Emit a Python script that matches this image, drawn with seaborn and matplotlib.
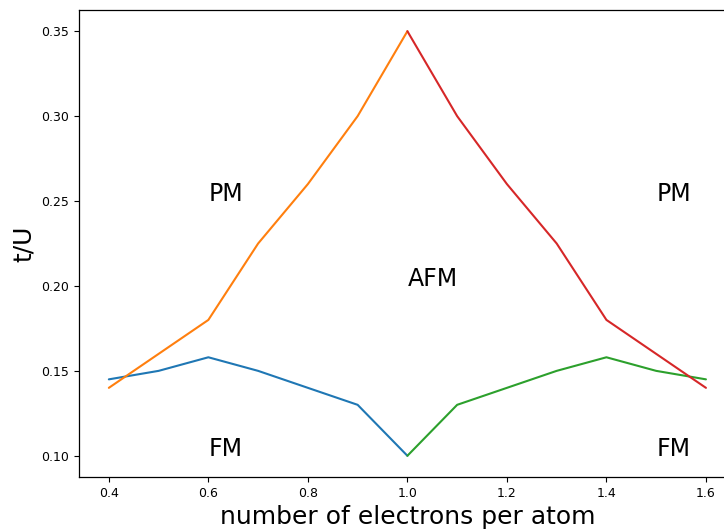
import numpy as np
import pandas as pd
import seaborn as sns
import matplotlib
matplotlib.use("Agg")
import matplotlib.pyplot as plt

# phase boundaries
x_left = [0.4, 0.5, 0.6, 0.7, 0.8, 0.9, 1.0]
fm_left = [0.145, 0.150, 0.158, 0.150, 0.140, 0.130, 0.100]
pm_left = [0.140, 0.160, 0.180, 0.225, 0.260, 0.300, 0.350]

x_right = [1.0, 1.1, 1.2, 1.3, 1.4, 1.5, 1.6]
fm_right = [0.100, 0.130, 0.140, 0.150, 0.158, 0.150, 0.145]
pm_right = [0.350, 0.300, 0.260, 0.225, 0.180, 0.160, 0.140]

labels = ["PM", "PM", "AFM", "FM", "FM"]
label_x = [0.6, 1.5, 1.0, 0.6, 1.5]
label_y = [0.25, 0.25, 0.2, 0.1, 0.1]

sns.set_style("ticks")
plt.rcParams['font.family'] = ['DejaVu Sans']
plt.rcParams['text.color'] = 'black'
plt.rcParams['axes.labelcolor'] = 'black'
plt.rcParams['xtick.color'] = 'black'
plt.rcParams['ytick.color'] = 'black'

fig = plt.figure(figsize=(7.24, 5.29), dpi=100)
# the original picture was cut on the right, so the axes run past the edge
ax = fig.add_axes([0.1091, 0.0983, 0.9072, 0.8828])

sns.lineplot(x=x_left, y=fm_left, color="#1f77b4", ax=ax)
sns.lineplot(x=x_left, y=pm_left, color="#ff7f0e", ax=ax)
sns.lineplot(x=x_right, y=fm_right, color="#2ca02c", ax=ax)
sns.lineplot(x=x_right, y=pm_right, color="#d62728", ax=ax)
ax.set_xlim(0.34, 1.66)

for s, xx, yy in zip(labels, label_x, label_y):
    ax.text(xx, yy, s, fontsize=17)

ax.set_xlabel("number of electrons per atom", fontsize=18)
ax.set_ylabel("t/U", fontsize=18)
ax.tick_params(labelsize=9, length=3.5, color="black")
for sp in ax.spines.values():
    sp.set_color("black")
    sp.set_linewidth(0.9)

fig.savefig("out.png", dpi=100)
